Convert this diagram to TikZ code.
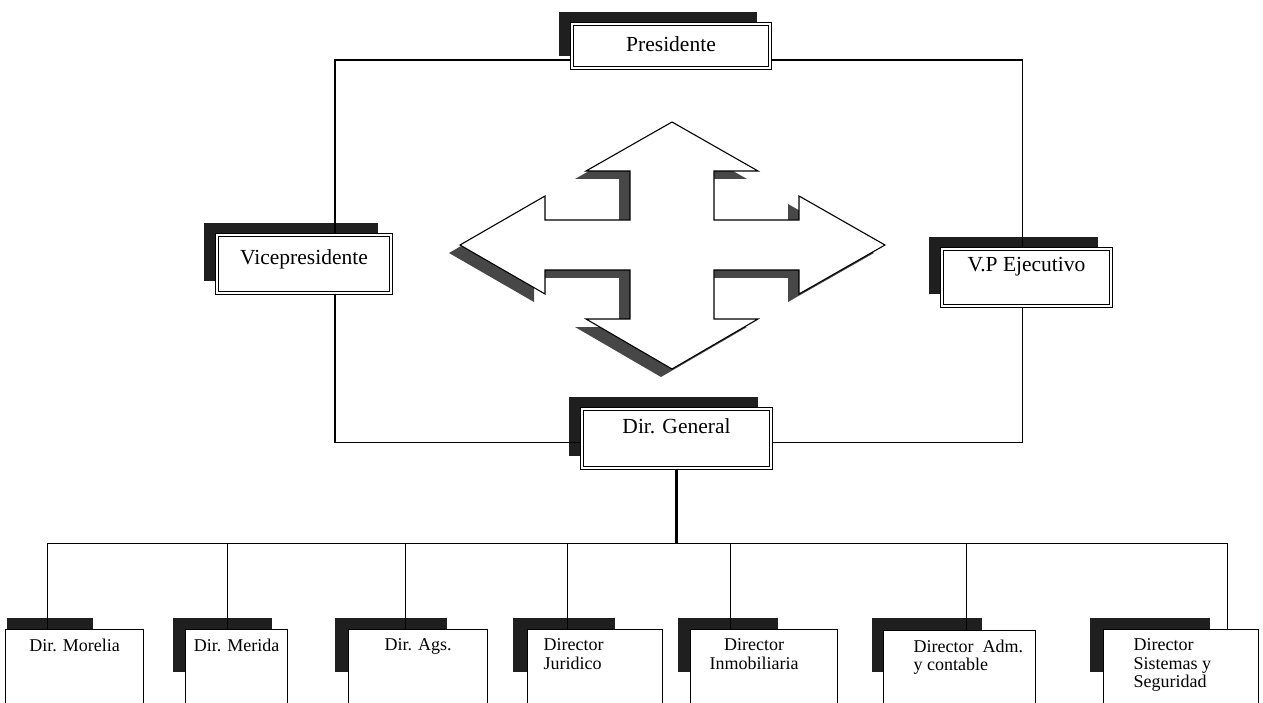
\documentclass[tikz,border=0pt]{standalone}
\usepackage{fontspec}
\setmainfont{Liberation Serif}
\usetikzlibrary{shadows,backgrounds}

\begin{document}
\begin{tikzpicture}[x=1pt,y=-1pt,line width=1.2pt]
  \tikzstyle{topbox}=[draw,double,double distance=2.2pt,line width=1.1pt,fill=white,inner sep=0pt,
    font=\fontsize{21.5}{25}\selectfont,
    general shadow={fill=black!88,shadow xshift=-13pt,shadow yshift=12pt}]
  \tikzstyle{lowbox}=[draw,fill=white,anchor=north west,minimum height=100pt,inner sep=0pt]
  \tikzstyle{lowtext}=[anchor=north,inner sep=0pt,yshift=-9pt,align=left,font=\fontsize{18}{18.5}\selectfont]
  \tikzstyle{shade}=[fill=black!88]
  \tikzstyle{crossshade}=[fill=black!72]
  \tikzstyle{crossline}=[draw,fill=white,line width=1.1pt,line join=miter]

  \useasboundingbox (0,0) rectangle (1263,703);
  \clip (0,0) rectangle (1263,703);

  % cross in the middle
  \foreach \dx/\dy/\sty in {-11/8/crossshade, 0/0/crossline}
    \path[\sty,shift={(672+\dx,245+\dy)}] (0,-123) -- (86,-74) -- (42,-74) -- (42,-25)
      -- (127,-25) -- (127,-49) -- (213,0) -- (127,49) -- (127,25) -- (42,25)
      -- (42,74) -- (86,74) -- (0,124) -- (-86,74) -- (-42,74) -- (-42,25)
      -- (-127,25) -- (-127,49) -- (-212,0) -- (-127,-49) -- (-127,-25)
      -- (-42,-25) -- (-42,-74) -- (-86,-74) -- cycle;

  \node[topbox,minimum width=198pt,text height=28pt,text depth=16pt] (pres) at (671,46) {Presidente};
  \node[topbox,minimum width=174pt,text height=30pt,text depth=28pt] (vice) at (304,264) {Vicepresidente};
  \node[topbox,minimum width=169pt,text height=23pt,text depth=34pt] (vpe) at (1026.5,277.5) {V.P Ejecutivo};
  \node[topbox,minimum width=189pt,text height=24pt,text depth=35pt] (gen) at (676.5,438.5) {Dir. General};

  \draw ([yshift=-14pt]pres.west) -| ([xshift=31pt]vice.north);
  \draw ([yshift=-14pt]pres.east) -| ([xshift=-4pt]vpe.north);
  \draw ([xshift=31pt]vice.south) |- ([yshift=-4pt]gen.west);
  \draw ([xshift=-4pt]vpe.south) |- ([yshift=-4pt]gen.east);

  % directors
  \node[lowbox,minimum width=138pt,label={[lowtext]north:Dir. Morelia}] (mor) at (5,629) {};
  \node[lowbox,minimum width=102pt,label={[lowtext]north:Dir. Merida}] (mer) at (185,629) {};
  \node[lowbox,minimum width=139pt,label={[lowtext]north:Dir. Ags.}] (ags) at (348,629) {};
  \node[lowbox,minimum width=135pt,label={[lowtext,anchor=north west,xshift=16pt]north west:{Director\\Juridico}}] (jur) at (527,629) {};
  \node[lowbox,minimum width=147pt,label={[lowtext,align=center,xshift=-10pt]north:{Director\\Inmobiliaria}}] (inm) at (690,629) {};
  \node[lowbox,minimum width=152pt,label={[lowtext,anchor=north west,xshift=30pt]north west:{Director\ \ Adm.\\y contable}}] (adm) at (883,630) {};
  \node[lowbox,minimum width=155pt,label={[lowtext,anchor=north west,xshift=30pt]north west:{Director\\Sistemas y\\Seguridad}}] (sis) at (1103,629) {};

  \begin{pgfonlayer}{background}
    \foreach \n/\sx/\sw in {mor/7/86, mer/173/99, ags/335/112, jur/513/102, inm/678/100, adm/872/110, sis/1090/120}
      \fill[shade] (\sx,618) rectangle ++(\sw,54);
  \end{pgfonlayer}

  \foreach \n/\x in {mor/47, mer/227, ags/405, jur/567, inm/730, adm/966, sis/1227} {
    \coordinate (b-\n) at (\x,543);
    \draw (b-\n) -- (b-\n |- \n.north);
  }
  \draw (b-mor) -- (b-sis);
  \draw[line width=3.5pt] (gen.south) -- (gen.south |- b-mor);
\end{tikzpicture}
\end{document}
